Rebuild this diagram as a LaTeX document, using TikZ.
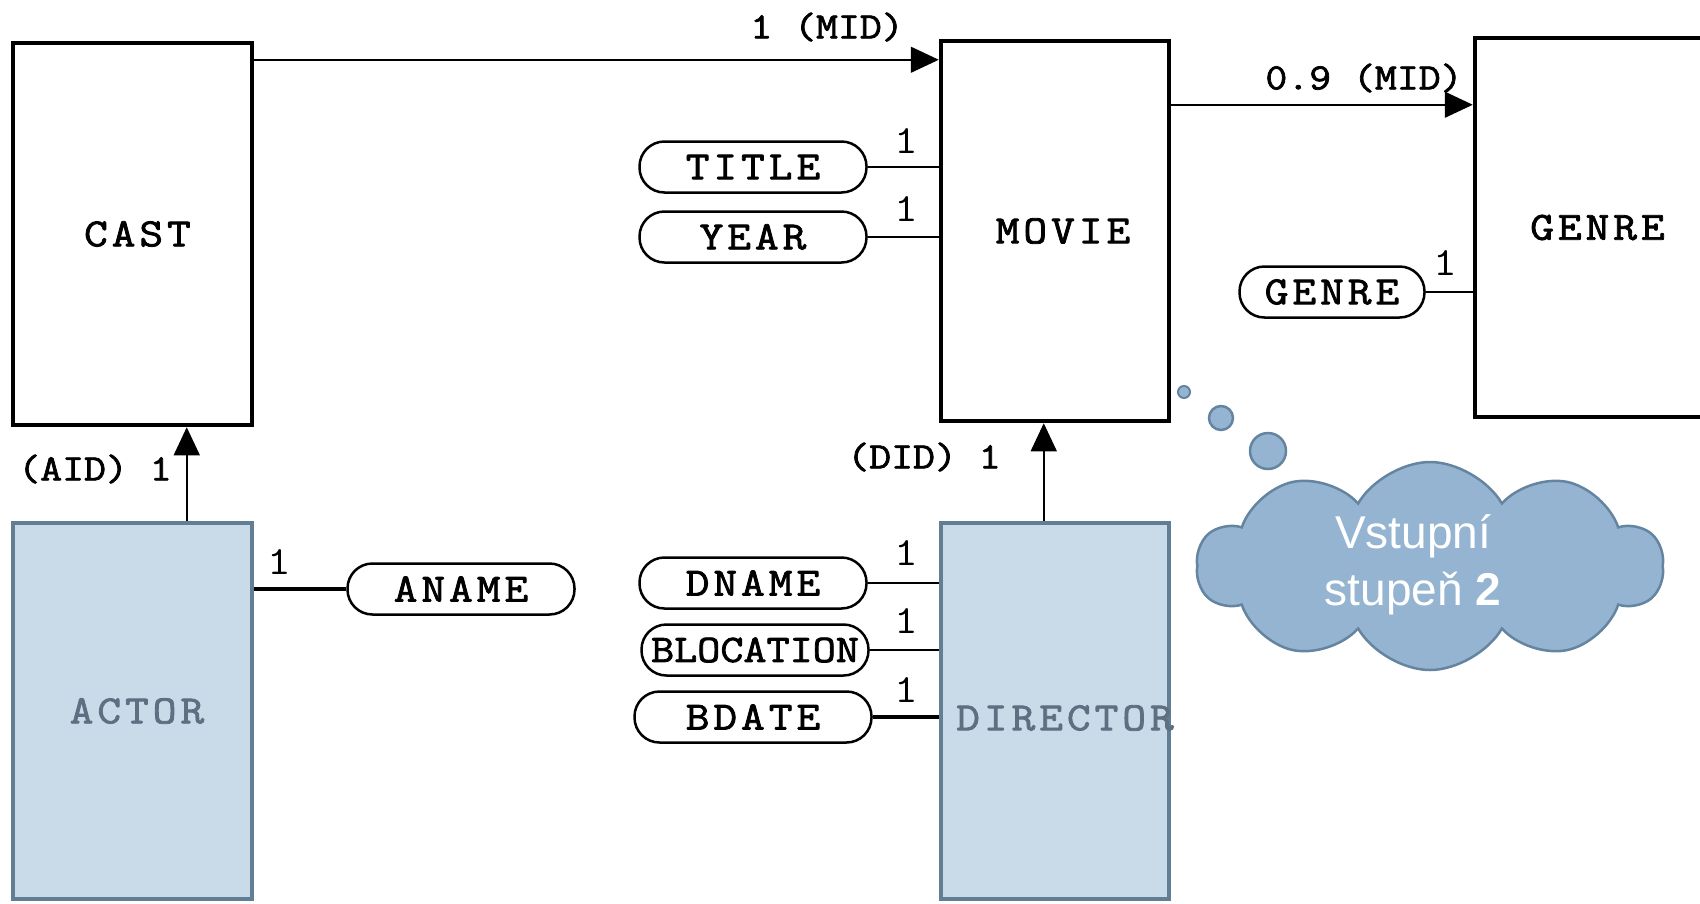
\documentclass[tikz,border=0pt]{standalone}
\usepackage{fontspec}
\usetikzlibrary{arrows.meta,shapes.symbols,calc}
\newfontfamily\cloudfont{Liberation Sans}
\newfontfamily\erfont{Latin Modern Mono}[FakeStretch=1.15, LetterSpace=10, FakeBold=2]
\newfontfamily\erlab{Latin Modern Mono}[FakeStretch=1.15, FakeBold=2]
\newfontfamily\ercard{Latin Modern Mono}[FakeStretch=1.15]
\definecolor{entfill}{HTML}{C9DAE8}
\definecolor{entedge}{HTML}{627E95}
\definecolor{enttext}{HTML}{5C7082}
\definecolor{cloudfill}{HTML}{94B4D2}
\definecolor{cloudedge}{HTML}{6584A0}
\begin{document}
\begin{tikzpicture}[x=1pt,y=-1pt,
  entity/.style={draw=black, line width=4.5pt, fill=white, inner sep=0pt,
    font=\erfont\fontsize{40}{40}\selectfont},
  wentity/.style={draw=entedge, line width=4.5pt, fill=entfill, inner sep=0pt, text=enttext,
    font=\erfont\fontsize{40}{40}\selectfont},
  pill/.style={draw=black, line width=2.5pt, fill=white, rounded corners=25pt,
    minimum width=227pt, minimum height=51pt, inner sep=0pt,
    font=\erfont\fontsize{40}{40}\selectfont},
  card/.style={inner sep=0pt, font=\ercard\fontsize{40}{40}\selectfont},
  lab/.style={inner sep=0pt, font=\erlab\fontsize{37}{37}\selectfont},
  arr/.style={draw=black, line width=1.5pt, -{Triangle[length=28pt,width=26pt]}},
  attr/.style={draw=black, line width=2.5pt},
  attrthick/.style={draw=black, line width=4.5pt}]
\useasboundingbox (0,0) rectangle (1700,903);
\clip (0,0) rectangle (1700,903);

% entities
\node[entity, minimum width=239pt, minimum height=382pt] (cast) at (132.5,234) {\hspace*{10pt}CAST};
\node[entity, minimum width=228pt, minimum height=380pt] (movie) at (1055,231) {\hspace*{16pt}MOVIE};
\node[entity, minimum width=245pt, minimum height=379pt] (genre) at (1597.5,227.5) {GENRE};
\node[wentity, minimum width=239pt, minimum height=376pt] (actor) at (132.5,711) {\hspace*{9pt}ACTOR};
\node[wentity, minimum width=228pt, minimum height=376pt] (director) at (1055,711) {};
\node[font=\erfont\fontsize{40}{40}\selectfont, text=enttext, inner sep=0pt] (dirtext) at (1065,718) {DIRECTOR};

% attributes
\node[pill] (title) at (753,167) {TITLE};
\node[pill] (year) at (753,237) {YEAR};
\node[pill, minimum width=185pt] (genreattr) at (1332,292) {GENRE};
\node[pill] (aname) at (461,589) {ANAME};
\node[pill] (dname) at (753,583) {DNAME};
\node[pill, font=\erlab\fontsize{39}{39}\selectfont] (bloc) at (755,650) {BLOCATION};
\node[pill, minimum width=237pt] (bdate) at (753,717) {BDATE};

% attribute connectors
\draw[attr] (title.east) -- (title.east -| movie.west);
\draw[attr] (year.east) -- (year.east -| movie.west);
\draw[attr] (genreattr.east) -- (genreattr.east -| genre.west);
\draw[attrthick] (aname.west) -- (aname.west -| actor.east);
\draw[attr] (dname.east) -- (dname.east -| director.west);
\draw[attr] (bloc.east) -- (bloc.east -| director.west);
\draw[attrthick] (bdate.east) -- (bdate.east -| director.west);

% cardinalities
\node[card] (c1) at (906,141) {1};
\node[card] (c2) at (906,209) {1};
\node[card] (c3) at (1445,263) {1};
\node[card] (c4) at (279,562) {1};
\node[card] (c5) at (906,553) {1};
\node[card] (c6) at (906,621) {1};
\node[card] (c7) at (906,690) {1};

% relationships
\draw[arr] ([yshift=-19pt]cast.north east) -- ([yshift=-19pt]cast.north east -| movie.west);
\draw[arr] ([yshift=-66pt]movie.north east) -- ([yshift=-66pt]movie.north east -| genre.west);
\draw[arr] ([xshift=176pt]actor.north west) -- ([xshift=176pt]actor.north west |- cast.south);
\draw[arr] ([xshift=105pt]director.north west) -- ([xshift=105pt]director.north west |- movie.south);

\node[lab] (l1) at (827,27) {1 (MID)};
\node[lab] (l2) at (1364,78) {0.9 (MID)};
\node[lab] (l3) at (95,469) {(AID) 1};
\node[lab] (l4) at (924,457) {(DID) 1};

% thought cloud
\fill[cloudfill, draw=cloudedge, line width=2pt] (1184,392) circle (6);
\fill[cloudfill, draw=cloudedge, line width=2.5pt] (1221,418) circle (12);
\fill[cloudfill, draw=cloudedge, line width=2.5pt] (1268,451) circle (18);
\node[cloud, cloud puffs=10, cloud puff arc=120, cloud ignores aspect,
  minimum width=466pt, minimum height=208pt, fill=cloudfill, draw=cloudedge,
  line width=2.5pt] (cloud) at (1430,566) {};
\node[align=center, text=white, inner sep=0pt,
  font=\cloudfont\fontsize{46}{57}\selectfont] (cloudtext) at (1413,565)
  {Vstupní\\stupeň \textbf{2}};
\end{tikzpicture}
\end{document}
